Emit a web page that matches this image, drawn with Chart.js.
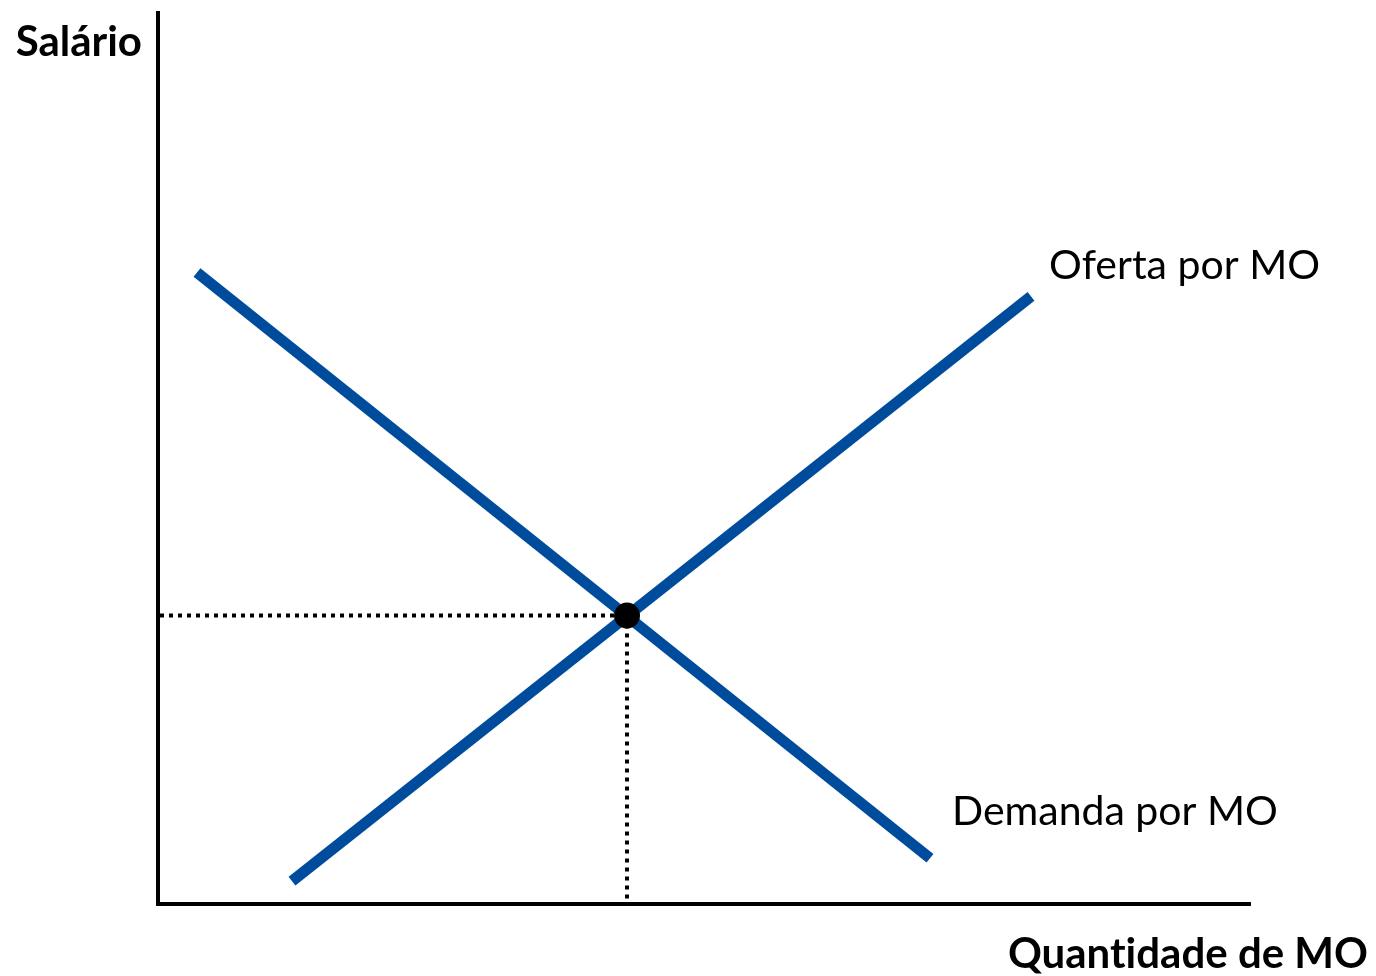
<!DOCTYPE html>
<html lang="pt">
<head>
    <meta charset="UTF-8">
    <title>Mercado de trabalho</title>
    <script src="https://cdn.jsdelivr.net/npm/chart.js"></script>
    <style>
        html, body { margin: 0; padding: 0; background: #fff; }
        canvas { display: block; }
    </style>
</head>
<body>
    <canvas id="laborChart" width="1376" height="976"></canvas>
    <script>
        // quantities (x) and wages (y)
        const demandX = [39, 772];
        const demandY = [635, 46];
        const supplyX = [134, 873];
        const supplyY = [23, 611];
        const equilibrium = { x: 469, y: 290 };
        const axisMax = { x: 1092, y: 896 };

        const blue = '#004c9c';

        function points(xs, ys) {
            return xs.map((x, i) => ({ x: x, y: ys[i] }));
        }

        // text labels drawn at data positions
        const labelsPlugin = {
            id: 'labels',
            afterDraw(chart) {
                const ctx = chart.ctx;
                const xs = chart.scales.x, ys = chart.scales.y;
                const area = chart.chartArea;
                ctx.save();
                ctx.fillStyle = '#000';
                ctx.textBaseline = 'middle';
                ctx.font = '41px Lato';
                ctx.textAlign = 'left';
                ctx.fillText('Oferta por MO', xs.getPixelForValue(891), ys.getPixelForValue(642));
                ctx.fillText('Demanda por MO', xs.getPixelForValue(794), ys.getPixelForValue(93));
                ctx.font = 'bold 42px Lato';
                ctx.textAlign = 'right';
                ctx.fillText('Salário', area.left - 16, area.top + 29);
                // ZWNJ keeps Lato from joining "ti" into a ligature
                ctx.fillText('Quant\u200Cidade de MO', 1368, area.bottom + 50);
                ctx.restore();
            }
        };

        new Chart(document.getElementById('laborChart'), {
            type: 'scatter',
            data: {
                datasets: [
                    {
                        label: 'equilíbrio',
                        data: [equilibrium],
                        pointRadius: 13,
                        pointBackgroundColor: '#000',
                        pointBorderWidth: 0,
                        order: -1
                    },
                    {
                        label: 'Demanda por MO',
                        data: points(demandX, demandY),
                        showLine: true,
                        borderColor: blue,
                        borderWidth: 11,
                        pointRadius: 0
                    },
                    {
                        label: 'Oferta por MO',
                        data: points(supplyX, supplyY),
                        showLine: true,
                        borderColor: blue,
                        borderWidth: 11,
                        pointRadius: 0
                    },
                    {
                        label: 'guia horizontal',
                        data: [{ x: 2, y: equilibrium.y }, equilibrium],
                        showLine: true,
                        borderColor: '#000',
                        borderWidth: 4,
                        borderDash: [4, 5],
                        pointRadius: 0
                    },
                    {
                        label: 'guia vertical',
                        data: [equilibrium, { x: equilibrium.x, y: 0 }],
                        showLine: true,
                        borderColor: '#000',
                        borderWidth: 4,
                        borderDash: [4, 5],
                        pointRadius: 0
                    }
                ]
            },
            options: {
                responsive: false,
                animation: false,
                layout: { padding: { left: 158, top: 8, right: 126, bottom: 72 } },
                plugins: {
                    legend: { display: false },
                    tooltip: { enabled: false }
                },
                scales: {
                    x: {
                        type: 'linear',
                        min: 0,
                        max: axisMax.x,
                        ticks: { display: false },
                        grid: { display: false, drawTicks: false },
                        border: { display: true, color: '#000', width: 4 },
                        afterFit(scale) { scale.height = 0; }
                    },
                    y: {
                        type: 'linear',
                        min: 0,
                        max: axisMax.y,
                        ticks: { display: false },
                        grid: { display: false, drawTicks: false },
                        border: { display: true, color: '#000', width: 4 },
                        afterFit(scale) { scale.width = 0; }
                    }
                }
            },
            plugins: [labelsPlugin]
        });
    </script>
</body>
</html>
